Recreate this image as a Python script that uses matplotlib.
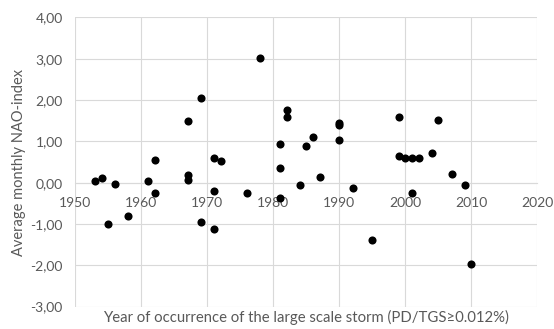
import matplotlib
matplotlib.use("Agg")
import matplotlib.pyplot as plt
from matplotlib.ticker import FuncFormatter, MultipleLocator

years = [1953, 1954, 1955, 1956, 1958, 1961, 1962, 1962, 1967, 1967, 1967,
         1969, 1969, 1971, 1971, 1971, 1972, 1976, 1978, 1981, 1981, 1981,
         1982, 1982, 1984, 1985, 1986, 1987, 1990, 1990, 1990, 1992, 1995,
         1999, 1999, 2000, 2001, 2001, 2002, 2004, 2005, 2007, 2009, 2010]
nao = [0.05, 0.12, -1.01, -0.02, -0.81, 0.05, 0.54, -0.25, 1.50, 0.19, 0.06,
       2.06, -0.95, 0.59, -0.21, -1.12, 0.52, -0.26, 3.02, 0.93, 0.36, -0.38,
       1.75, 1.59, -0.06, 0.90, 1.11, 0.14, 1.45, 1.40, 1.03, -0.14, -1.38,
       1.59, 0.64, 0.60, 0.60, -0.25, 0.60, 0.72, 1.51, 0.21, -0.05, -1.98]

plt.rcParams['font.family'] = ['Lato', 'DejaVu Sans']

fig = plt.figure(figsize=(5.54, 3.29), dpi=100)
ax = fig.add_axes([0.136, 0.068, 0.834, 0.879])

ax.scatter(years, nao, s=34, color='black', zorder=3, linewidths=0)

ax.set_xlim(1950, 2020)
ax.set_ylim(-3, 4)
ax.xaxis.set_major_locator(MultipleLocator(10))
ax.yaxis.set_major_locator(MultipleLocator(1))
ax.yaxis.set_major_formatter(FuncFormatter(lambda v, p: f"{v:.2f}".replace('.', ',')))
ax.grid(True, color='#d9d9d9', linewidth=0.8, zorder=0)
for s in ax.spines.values():
    s.set_visible(False)
ax.spines['bottom'].set_visible(True)
ax.spines['bottom'].set_position(('data', 0))
ax.spines['bottom'].set_color('#d9d9d9')
ax.spines['bottom'].set_linewidth(0.8)
ax.tick_params(axis='both', length=0, colors='#595959', labelsize=10)
ax.tick_params(axis='x', pad=10)
ax.tick_params(axis='y', pad=9)

ax.set_ylabel('Average monthly NAO-index', fontsize=10.5, color='#595959', labelpad=3)
fig.text(0.553, 0.012, 'Year of occurrence of the large scale storm (PD/TGS\u22650.012%)',
         ha='center', va='bottom', fontsize=10.7, color='#595959')

fig.savefig('out.png', dpi=100)
